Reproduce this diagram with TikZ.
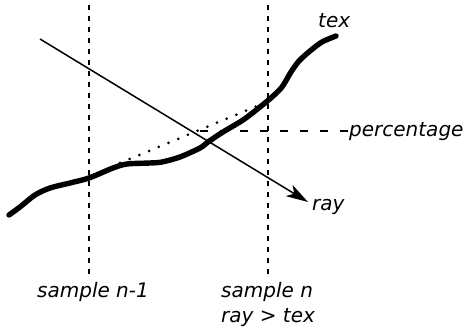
\documentclass[tikz,border=0pt]{standalone}
\usepackage{fontspec}
\setmainfont{DejaVu Sans}
\usetikzlibrary{arrows.meta}
\begin{document}
\begin{tikzpicture}[x=1pt,y=-1pt,
  lbl/.style={font=\fontsize{20}{24}\selectfont\itshape, inner sep=0pt},
  vdash/.style={line width=1.6pt, dash pattern=on 5pt off 6pt},
  hdash/.style={line width=1.6pt, dash pattern=on 7.5pt off 12.5pt},
  thin/.style={line width=1.5pt},
  heavy/.style={line width=5.4pt, line cap=round, line join=round}]
\useasboundingbox (0,0) rectangle (466,328);
% sample lines
\coordinate (s1t) at (89,5);
\coordinate (s1b) at (89,274);
\coordinate (s2t) at (268,5);
\coordinate (s2b) at (268,274);
\draw[vdash] (s1t) -- (s1b);
\draw[vdash] (s2t) -- (s2b);
% labels
\node[lbl, anchor=base] (l1) at (93,298) {sample n-1};
\node[lbl, anchor=base west] (l2) at (221,298) {sample n};
\node[lbl, anchor=base west] (l3) at (221,323) {ray > tex};
\node[lbl, anchor=base west] (tex) at (318,28) {tex};
\node[lbl, anchor=base west] (ray) at (312,211) {ray};
\node[lbl, anchor=base west] (pct) at (349,137) {percentage};
% percentage line
\coordinate (h0) at (200,131);
\draw[hdash] (h0) -- (pct.west |- h0);
% dotted chord
\coordinate (d0) at (120,163);
\coordinate (d1) at (262,104);
\draw[line width=3pt, line cap=round, dash pattern=on 0pt off 10.5pt] (d0) -- (d1);
% heightfield curve
\draw[heavy] plot[smooth, tension=0.5] coordinates {
 (9,215) (20,207) (35,195) (50,188) (70,183) (89,178) (113,168) (127,164)
 (150,163) (162,162) (180,157) (200,148) (208,142) (223,132) (243,120)
 (260,107) (272,97) (282,87) (291,72) (299,61) (310,51) (322,42) (336,36)};
% ray
\coordinate (r0) at (40,39);
\coordinate (r1) at (308,202);
\draw[thin, -{Stealth[length=22pt,width=13pt,inset=6pt]}] (r0) -- (r1);
\end{tikzpicture}
\end{document}
